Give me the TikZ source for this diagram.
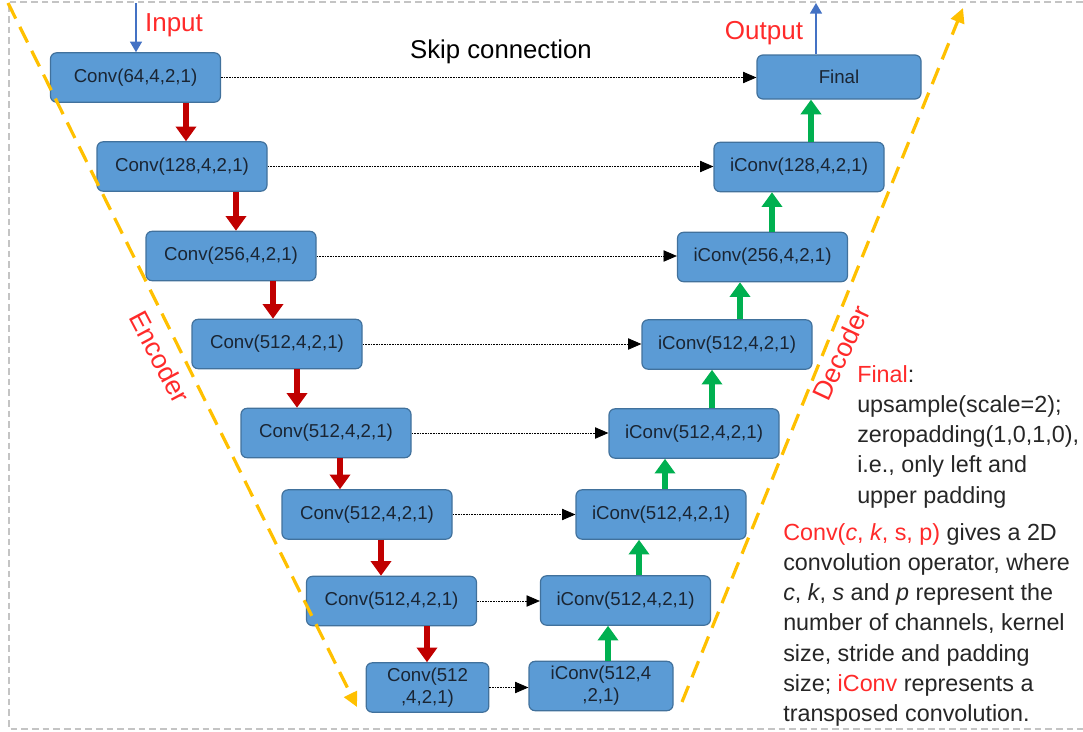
\documentclass[tikz,border=0pt]{standalone}
\usepackage{fontspec}
\setmainfont{Liberation Sans}
\usepackage{tikz}
\usetikzlibrary{positioning,arrows.meta,calc}

\definecolor{boxblue}{HTML}{5B9BD5}
\definecolor{boxedge}{HTML}{41719C}
\definecolor{boxtext}{HTML}{1A2533}
\definecolor{encred}{HTML}{C00000}
\definecolor{decgreen}{HTML}{00B050}
\definecolor{guideorange}{HTML}{FFC000}
\definecolor{ioblue}{HTML}{4472C4}
\definecolor{labelred}{HTML}{FF2A2A}
\definecolor{notegray}{HTML}{262626}
\definecolor{framegray}{HTML}{C4C4C4}

\begin{document}
\begin{tikzpicture}
 	[x=0.75pt, y=-0.75pt,
 	 layer/.style={rectangle,rounded corners=4.5pt,draw=boxedge,fill=boxblue,line width=0.9pt,text=boxtext,font=\fontsize{14}{16.5}\selectfont,minimum width=127.5pt,minimum height=37pt,inner sep=0pt},
 	 down/.style={draw=encred,line width=5.2pt,-{Triangle[length=11pt,width=15pt]}},
 	 up/.style={draw=decgreen,line width=5.2pt,-{Triangle[length=11pt,width=15pt]}},
 	 skip/.style={draw=black,line width=0.6pt,dash pattern=on 1.2pt off 0.8pt,-{Triangle[length=10pt,width=8.5pt]}},
 	 guide/.style={draw=guideorange,line width=2.4pt,dash pattern=on 13pt off 7pt,-{Triangle[length=11pt,width=10.5pt]}},
 	 io/.style={draw=ioblue,line width=1.2pt,-{Triangle[length=8pt,width=9pt]}},
 	 tag/.style={text=labelred,font=\fontsize{19.5}{23}\selectfont,inner sep=0pt},
 	 note/.style={text=notegray,font=\fontsize{17.5}{22.7}\selectfont,align=left,anchor=north west,inner sep=0pt}]
 \useasboundingbox (0,0) rectangle (1083,732);
 \draw[framegray,line width=1.1pt,dash pattern=on 5pt off 3pt] (1083,2) -- (9,2) -- (9,729) -- (1083,729);
 % encoder
 \node (e1) [layer] at (135.5,77.5) {Conv(64,4,2,1)};
 \node (e2) [layer] at (182,166.5) {Conv(128,4,2,1)};
 \node (e3) [layer] at (231,256) {Conv(256,4,2,1)};
 \node (e4) [layer] at (277,344) {Conv(512,4,2,1)};
 \node (e5) [layer] at (326,433) {Conv(512,4,2,1)};
 \node (e6) [layer] at (367,514.5) {Conv(512,4,2,1)};
 \node (e7) [layer] at (391.5,601) {Conv(512,4,2,1)};
 \node (e8) [layer,minimum width=92pt,align=center] at (427.5,687.5) {Conv(512\\,4,2,1)};
 % decoder
 \node (d0) [layer,minimum width=123pt,minimum height=33pt] at (839,77) {Final};
 \node (d1) [layer] at (799,167) {iConv(128,4,2,1)};
 \node (d2) [layer] at (762.5,257) {iConv(256,4,2,1)};
 \node (d3) [layer] at (727,344.5) {iConv(512,4,2,1)};
 \node (d4) [layer] at (694,433.5) {iConv(512,4,2,1)};
 \node (d5) [layer] at (661,514.5) {iConv(512,4,2,1)};
 \node (d6) [layer] at (625.5,600.5) {iConv(512,4,2,1)};
 \node (d7) [layer,minimum width=108pt,align=center] at (601,686) {iConv(512,4\\,2,1)};
 \foreach \from/\to in {e1/d0, e2/d1, e3/d2, e4/d3, e5/d4, e6/d5, e7/d6, e8/d7}
 \draw[skip] (\from.east) -- (\from.east -| \to.west);
 \foreach \from/\to/\dx in {e1/e2/4, e2/e3/5, e3/e4/-4, e4/e5/-29, e5/e6/-27, e6/e7/-10.5, e7/e8/-0.5}
 \draw[down] ($(\to.north |- \from.south)+(\dx,0)$) -- ($(\to.north)+(\dx,0)$);
 \foreach \from/\to/\dx in {d1/d0/-28, d2/d1/-27, d3/d2/-22.5, d4/d3/-15, d5/d4/-29, d6/d5/-22, d7/d6/-17.5}
 \draw[up] ($(\to.south |- \from.north)+(\dx,0)$) -- ($(\to.south)+(\dx,0)$);
 % input and output
 \coordinate (src) at (136,3);
 \coordinate (sink) at (816,3);
 \draw[io] (src) -- (e1.north -| src);
 \draw[io] (d0.north -| sink) -- (sink);
 \node (intag) [tag] at (174,25) {Input};
 \node (outtag) [tag] at (764,33) {Output};
 \node (skiptag) [font=\fontsize{19.3}{23}\selectfont,inner sep=0pt] at (501,52) {Skip connection};
 % encoder and decoder guides
 \coordinate (enctop) at (8,3);
 \coordinate (encend) at (357,707);
 \coordinate (decstart) at (682,702);
 \coordinate (dectop) at (963,8);
 \draw[guide] (enctop) -- (encend);
 \draw[guide] (decstart) -- (dectop);
 \node (enctag) [tag,font=\fontsize{20}{23}\selectfont,rotate=-62] at (160,357) {Encoder};
 \node (dectag) [tag,font=\fontsize{20}{23}\selectfont,rotate=65] at (841,353) {Decoder};
 % notes
 \node (finalnote) [note] at (857,365) {\textcolor{labelred}{Final}:\\upsample(scale=2);\\zeropadding(1,0,1,0),\\i.e., only left and\\upper padding};
 \node (convnote) [note] at (783,523) {\textcolor{labelred}{Conv(\textit{c}, \textit{k}, s, p)} gives a 2D\\convolution operator, where\\\textit{c}, \textit{k}, \textit{s} and \textit{p} represent the\\number of channels, kernel\\size, stride and padding\\size; \textcolor{labelred}{iConv} represents a\\transposed convolution.};
 \end{tikzpicture}
\end{document}
